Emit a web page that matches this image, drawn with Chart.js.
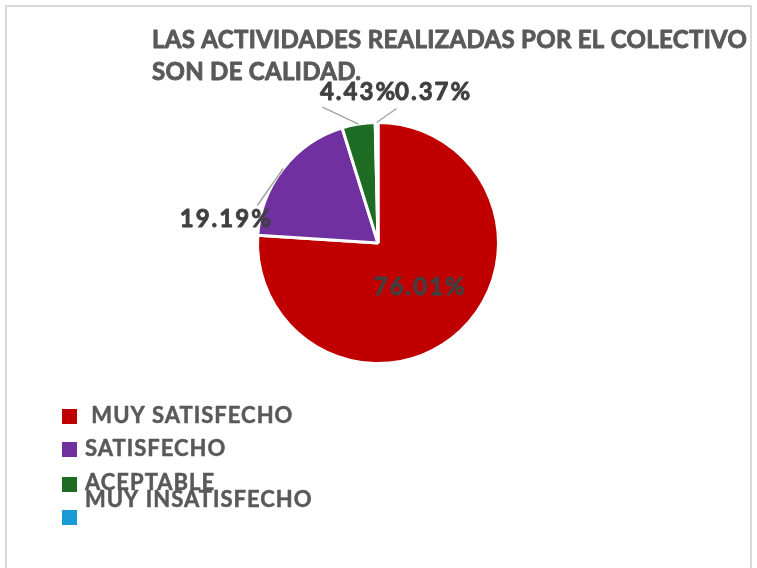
<!DOCTYPE html>
<html>
<head>
<meta charset="utf-8">
<script src="https://cdn.jsdelivr.net/npm/chart.js@4/dist/chart.umd.min.js"></script>
<style>
  html, body { margin: 0; padding: 0; background: #ffffff; }
  #wrap { position: relative; width: 757px; height: 568px; }
</style>
</head>
<body>
<div id="wrap"><canvas id="c" width="757" height="568"></canvas></div>
<script>
// ---- data ----
const titleLines = ["LAS ACTIVIDADES REALIZADAS POR EL COLECTIVO", "SON DE CALIDAD."];
const categories = [" MUY SATISFECHO", "SATISFECHO", "ACEPTABLE", "MUY INSATISFECHO"];
const percentages = [76.01, 19.19, 4.43, 0.37];
const sliceColors = ["#C00000", "#7030A0", "#1E6B24", "#1A9BD7"];

// ---- helpers ----
function heavyText(ctx, text, x, y, color, weight) {
  ctx.fillStyle = color;
  ctx.strokeStyle = color;
  ctx.lineWidth = weight;
  ctx.lineJoin = 'round';
  ctx.strokeText(text, x, y);
  ctx.fillText(text, x, y);
}

// ---- plugins ----
const framePlugin = {
  id: 'frame',
  beforeDraw(chart) {
    const ctx = chart.ctx;
    ctx.save();
    ctx.fillStyle = '#ffffff';
    ctx.fillRect(0, 0, chart.width, chart.height);
    ctx.strokeStyle = '#d9d9d9';
    ctx.lineWidth = 2;
    ctx.strokeRect(6, 6, 745, 640);
    ctx.restore();
  }
};

const titlePlugin = {
  id: 'customTitle',
  afterDraw(chart, args, opts) {
    const ctx = chart.ctx;
    ctx.save();
    ctx.font = opts.font;
    ctx.letterSpacing = opts.letterSpacing;
    ctx.textAlign = 'left';
    ctx.textBaseline = 'alphabetic';
    titleLines.forEach((t, i) => {
      heavyText(ctx, t, opts.x, opts.y + i * opts.lineHeight, opts.color, 0.9);
    });
    ctx.restore();
  }
};

const labelPlugin = {
  id: 'sliceLabels',
  afterDatasetsDraw(chart, args, opts) {
    const ctx = chart.ctx;
    const meta = chart.getDatasetMeta(0);
    ctx.save();
    meta.data.forEach((arc, i) => {
      const text = percentages[i].toFixed(2) + '%';
      const p = arc.getProps(['x', 'y', 'startAngle', 'endAngle', 'outerRadius'], true);
      const off = opts.offsets[i];
      ctx.font = opts.font;
      ctx.letterSpacing = opts.letterSpacing;
      ctx.textAlign = 'center';
      ctx.textBaseline = 'middle';
      if (!off) {
        const pos = arc.tooltipPosition(true);
        heavyText(ctx, text, pos.x + 1, pos.y, opts.color, 0.9);
        return;
      }
      const mid = (p.startAngle + p.endAngle) / 2;
      const ex = p.x + Math.cos(mid) * p.outerRadius;
      const ey = p.y + Math.sin(mid) * p.outerRadius;
      ctx.strokeStyle = opts.lineColor;
      ctx.lineWidth = 1.5;
      ctx.beginPath();
      ctx.moveTo(ex, ey);
      ctx.lineTo(ex + off.lx, ey + off.ly);
      ctx.stroke();
      heavyText(ctx, text, ex + off.tx, ey + off.ty, opts.color, 0.9);
    });
    ctx.restore();
  }
};

const legendPlugin = {
  id: 'customLegend',
  afterDraw(chart, args, opts) {
    const ctx = chart.ctx;
    ctx.save();
    ctx.font = opts.font;
    ctx.letterSpacing = opts.letterSpacing;
    ctx.textAlign = 'left';
    ctx.textBaseline = 'middle';
    chart.data.labels.forEach((lab, i) => {
      const colors = chart.data.datasets[0].backgroundColor;
      ctx.fillStyle = colors[i];
      ctx.fillRect(opts.boxX, opts.boxTops[i], opts.boxSize, opts.boxSize);
      heavyText(ctx, lab, opts.textX, opts.textCenters[i], opts.color, 0.5);
    });
    ctx.restore();
  }
};

new Chart(document.getElementById('c'), {
  type: 'pie',
  data: {
    labels: categories,
    datasets: [{
      data: percentages,
      backgroundColor: sliceColors,
      borderColor: '#ffffff',
      borderWidth: 3
    }]
  },
  options: {
    responsive: false,
    animation: false,
    rotation: 0,
    layout: { padding: { left: 256, right: 257, top: 121, bottom: 203 } },
    plugins: {
      legend: { display: false },
      title: { display: false },
      tooltip: { enabled: false },
      customTitle: {
        x: 152, y: 48, lineHeight: 32, letterSpacing: '0.3px',
        font: 'bold 24px Lato', color: '#595959'
      },
      sliceLabels: {
        font: 'bold 24px Lato', letterSpacing: '2px', color: '#404040', lineColor: '#a6a6a6',
        offsets: [
          null,
          { lx: -26, ly: 37, tx: -57, ty: 51 },
          { lx: -36, ly: -17, tx: 0, ty: -32 },
          { lx: 20, ly: -14, tx: 57, ty: -30 }
        ]
      },
      customLegend: {
        font: 'bold 22px Lato', letterSpacing: '1px', color: '#595959',
        boxX: 62, boxSize: 15,
        boxTops: [409, 442, 477, 510],
        textX: 85,
        textCenters: [416, 449, 483, 500]
      }
    }
  },
  plugins: [framePlugin, titlePlugin, labelPlugin, legendPlugin]
});
</script>
</body>
</html>
